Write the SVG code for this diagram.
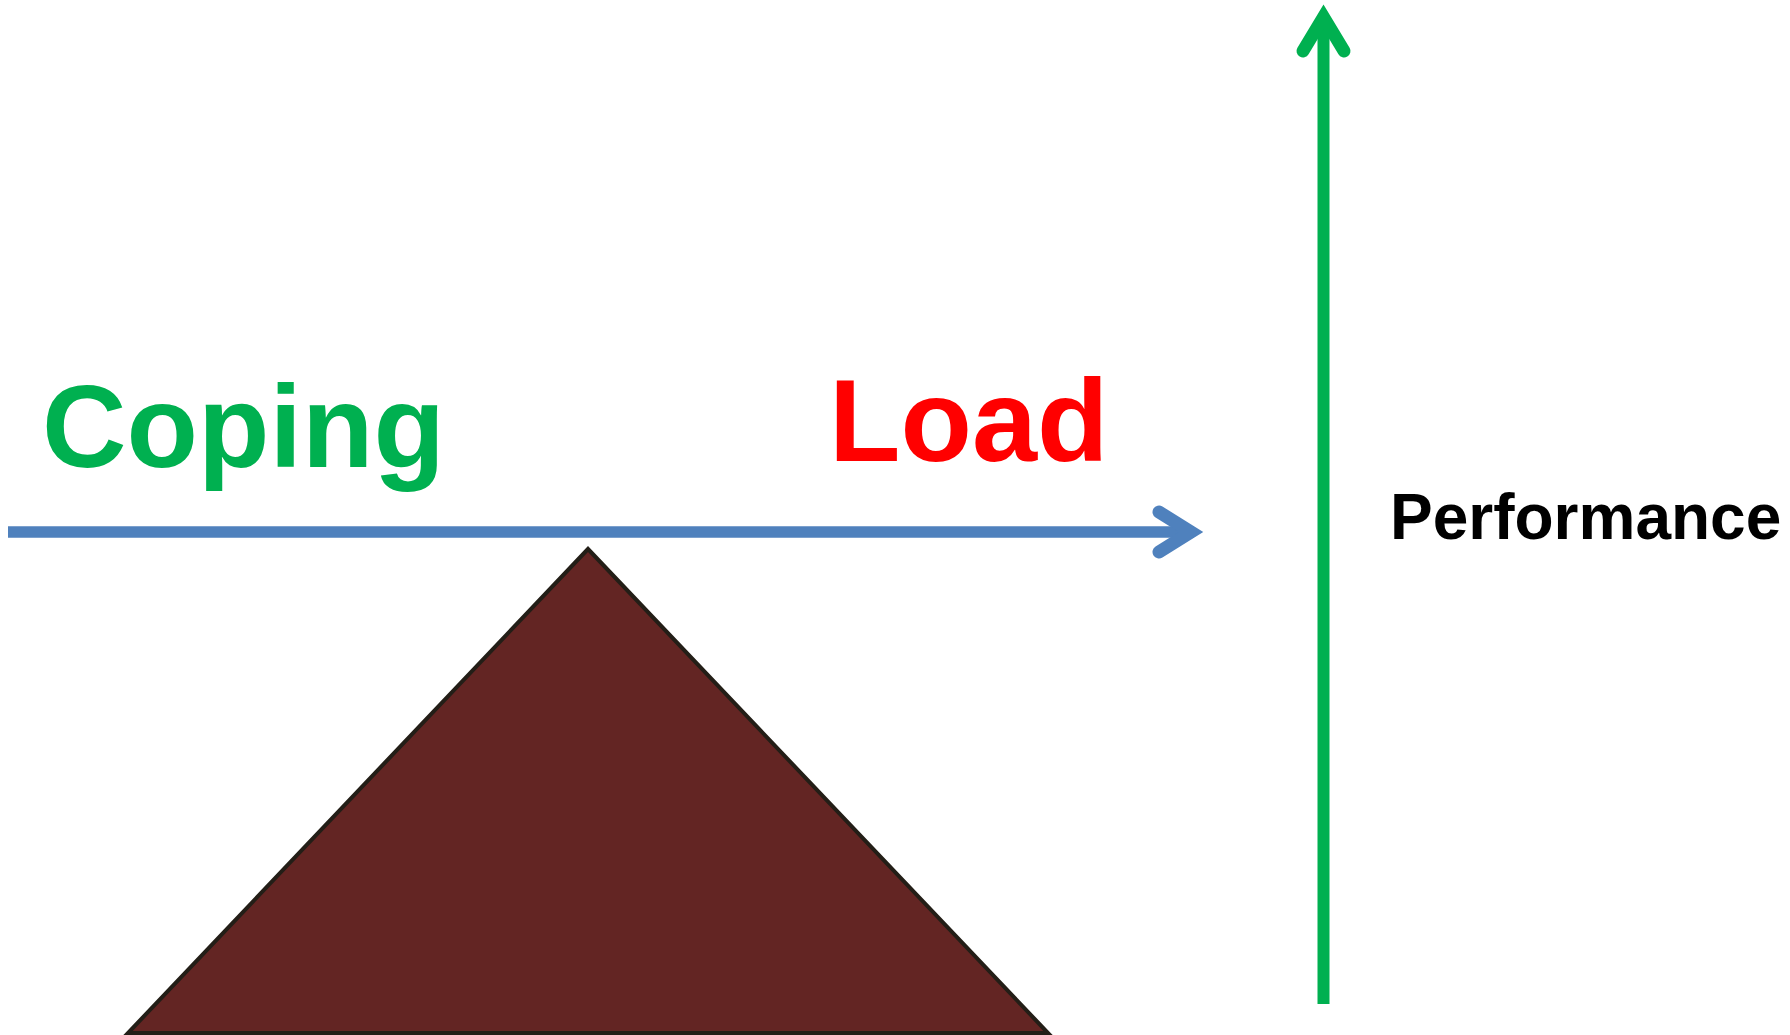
<svg xmlns="http://www.w3.org/2000/svg" width="1790" height="1035" viewBox="0 0 1790 1035">
  <style>
    .label { font-family: "Liberation Sans", Arial, sans-serif; font-weight: bold; }
    .axis-h { fill: none; stroke: #4F81BD; stroke-width: 11.5; }
    .axis-v { fill: none; stroke: #00B050; stroke-width: 12; }
    .head { stroke-width: 13; stroke-linecap: round; stroke-linejoin: miter; stroke-miterlimit: 10; }
  </style>
  <rect width="1790" height="1035" fill="#ffffff"/>

  <!-- fulcrum -->
  <g id="fulcrum">
    <polygon points="588,549 128,1033 1048,1033" fill="#632523" stroke="#231E17" stroke-width="4" stroke-linejoin="miter"/>
  </g>

  <g id="connectors">
    <!-- balance beam -->
    <line class="axis-h" x1="8" y1="532" x2="1194" y2="532"/>
    <polyline class="axis-h head" points="1159,512 1191,532 1159,552"/>
    <!-- performance axis -->
    <line class="axis-v" x1="1323.5" y1="1004" x2="1323.5" y2="22"/>
    <polyline class="axis-v head" points="1303,51 1323.5,17 1344,51"/>
  </g>

  <g id="coping">
    <text class="label" x="42" y="467" font-size="117" fill="#00B050">Coping</text>
  </g>
  <g id="load">
    <text class="label" x="829" y="461" font-size="117" fill="#FF0000">Load</text>
  </g>
  <g id="performance">
    <text class="label" x="1390" y="539" font-size="64" fill="#000000">Performance</text>
  </g>
</svg>
